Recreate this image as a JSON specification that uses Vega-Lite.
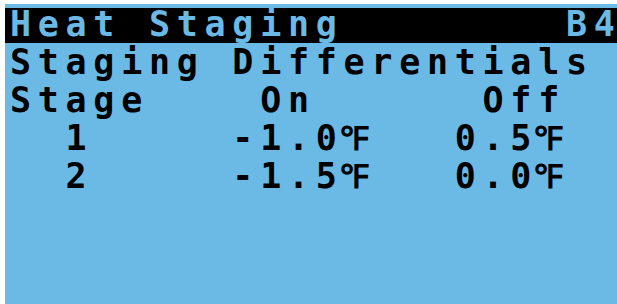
{
  "$schema": "https://vega.github.io/schema/vega-lite/v6.json",
  "width": 617,
  "height": 304,
  "autosize": {"type": "fit", "contains": "padding"},
  "padding": {"left": 5, "top": 4, "right": 0, "bottom": 0},
  "background": "white",
  "config": {"view": {"fill": "#6BBAE6", "stroke": null}},
  "data": {"values": [
    {"r": 0, "c": 0, "t": "H"}, {"r": 0, "c": 1, "t": "e"}, {"r": 0, "c": 2, "t": "a"}, {"r": 0, "c": 3, "t": "t"},
    {"r": 0, "c": 5, "t": "S"}, {"r": 0, "c": 6, "t": "t"}, {"r": 0, "c": 7, "t": "a"}, {"r": 0, "c": 8, "t": "g"},
    {"r": 0, "c": 9, "t": "i"}, {"r": 0, "c": 10, "t": "n"}, {"r": 0, "c": 11, "t": "g"},
    {"r": 0, "c": 20, "t": "B"}, {"r": 0, "c": 21, "t": "4"},
    {"r": 1, "c": 0, "t": "S"}, {"r": 1, "c": 1, "t": "t"}, {"r": 1, "c": 2, "t": "a"}, {"r": 1, "c": 3, "t": "g"},
    {"r": 1, "c": 4, "t": "i"}, {"r": 1, "c": 5, "t": "n"}, {"r": 1, "c": 6, "t": "g"},
    {"r": 1, "c": 8, "t": "D"}, {"r": 1, "c": 9, "t": "i"}, {"r": 1, "c": 10, "t": "f"}, {"r": 1, "c": 11, "t": "f"},
    {"r": 1, "c": 12, "t": "e"}, {"r": 1, "c": 13, "t": "r"}, {"r": 1, "c": 14, "t": "e"}, {"r": 1, "c": 15, "t": "n"},
    {"r": 1, "c": 16, "t": "t"}, {"r": 1, "c": 17, "t": "i"}, {"r": 1, "c": 18, "t": "a"}, {"r": 1, "c": 19, "t": "l"},
    {"r": 1, "c": 20, "t": "s"},
    {"r": 2, "c": 0, "t": "S"}, {"r": 2, "c": 1, "t": "t"}, {"r": 2, "c": 2, "t": "a"}, {"r": 2, "c": 3, "t": "g"}, {"r": 2, "c": 4, "t": "e"},
    {"r": 2, "c": 9, "t": "O"}, {"r": 2, "c": 10, "t": "n"},
    {"r": 2, "c": 17, "t": "O"}, {"r": 2, "c": 18, "t": "f"}, {"r": 2, "c": 19, "t": "f"},
    {"r": 3, "c": 2, "t": "1"},
    {"r": 3, "c": 8, "t": "-"}, {"r": 3, "c": 9, "t": "1"}, {"r": 3, "c": 10, "t": "."}, {"r": 3, "c": 11, "t": "0"}, {"r": 3, "c": 12, "t": "℉"},
    {"r": 3, "c": 16, "t": "0"}, {"r": 3, "c": 17, "t": "."}, {"r": 3, "c": 18, "t": "5"}, {"r": 3, "c": 19, "t": "℉"},
    {"r": 4, "c": 2, "t": "2"},
    {"r": 4, "c": 8, "t": "-"}, {"r": 4, "c": 9, "t": "1"}, {"r": 4, "c": 10, "t": "."}, {"r": 4, "c": 11, "t": "5"}, {"r": 4, "c": 12, "t": "℉"},
    {"r": 4, "c": 16, "t": "0"}, {"r": 4, "c": 17, "t": "."}, {"r": 4, "c": 18, "t": "0"}, {"r": 4, "c": 19, "t": "℉"}
  ]},
  "layer": [
    {
      "mark": {"type": "rect", "color": "#000000"},
      "encoding": {
        "x": {"datum": -0.5576, "type": "quantitative", "scale": {"domain": [-0.5576, 21.4568], "nice": false, "zero": false}, "axis": null},
        "x2": {"datum": 21.4568},
        "y": {"datum": -0.752, "type": "quantitative", "scale": {"domain": [-0.8575, 7.058], "nice": false, "zero": false, "reverse": true}, "axis": null},
        "y2": {"datum": 0.1715}
      }
    },
    {
      "mark": {"type": "text", "font": "DejaVu Sans Mono", "fontWeight": "bold", "align": "center", "baseline": "alphabetic"},
      "encoding": {
        "x": {"field": "c", "type": "quantitative", "scale": {"domain": [-0.5576, 21.4568], "nice": false, "zero": false}, "axis": null},
        "y": {"field": "r", "type": "quantitative", "scale": {"domain": [-0.8575, 7.058], "nice": false, "zero": false, "reverse": true}, "axis": null},
        "text": {"field": "t"},
        "size": {"condition": {"test": "datum.t === '℉'", "value": 33}, "value": 35},
        "color": {"condition": {"test": "datum.r === 0", "value": "#6BBAE6"}, "value": "#000000"}
      }
    }
  ]
}
